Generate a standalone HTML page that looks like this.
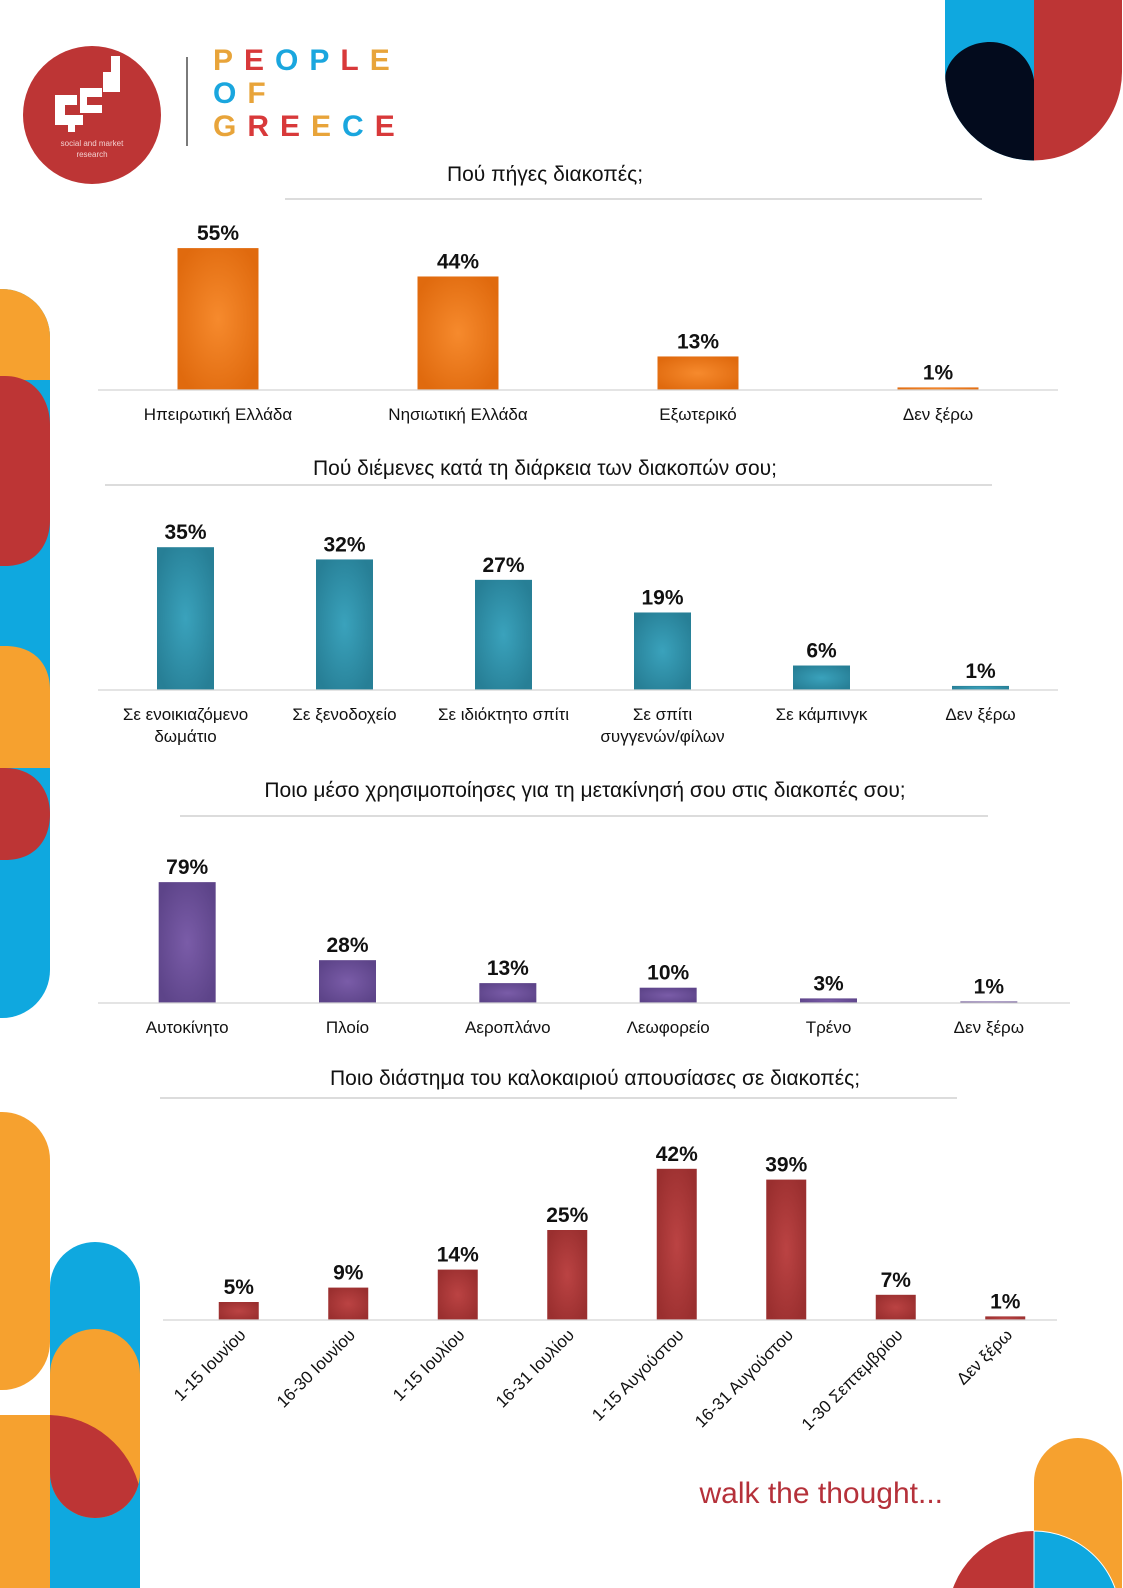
<!DOCTYPE html>
<html><head><meta charset="utf-8">
<style>
html,body{margin:0;padding:0;background:#fff;}
body{width:1123px;height:1588px;overflow:hidden;position:relative;font-family:"Liberation Sans","DejaVu Sans",sans-serif;}
svg{position:absolute;left:0;top:0;}
</style></head>
<body>
<svg id="page" width="1123" height="1588" viewBox="0 0 1123 1588" xmlns="http://www.w3.org/2000/svg">
<defs>
<radialGradient id="gOr" cx="50%" cy="50%" r="60%"><stop offset="0" stop-color="#f68a2d"/><stop offset="1" stop-color="#e06a0e"/></radialGradient>
<radialGradient id="gTe" cx="50%" cy="50%" r="60%"><stop offset="0" stop-color="#3aa2bc"/><stop offset="1" stop-color="#277f96"/></radialGradient>
<radialGradient id="gPu" cx="50%" cy="50%" r="60%"><stop offset="0" stop-color="#7a5ca8"/><stop offset="1" stop-color="#5d4489"/></radialGradient>
<radialGradient id="gRe" cx="50%" cy="50%" r="60%"><stop offset="0" stop-color="#bb4343"/><stop offset="1" stop-color="#9a2f2f"/></radialGradient>
<clipPath id="clipTR"><path d="M945 0 H1122 V72 A88.5 88.5 0 0 1 945 72 Z"/></clipPath>
<clipPath id="clipBR"><rect x="900" y="1400" width="223" height="188"/></clipPath>
<clipPath id="clipOrP"><path d="M50 1374 A45 45 0 0 1 140 1374 V1473 A45 45 0 0 1 50 1473 Z"/></clipPath>
</defs>

<g clip-path="url(#clipTR)">
<rect x="945" y="0" width="89" height="170" fill="#0fa8df"/>
<rect x="1034" y="0" width="89" height="170" fill="#bd3535"/>
<path d="M1034 170 V80 C1030 55 1010 42 990 42 C965 42 945 60 945 80 V170 Z" fill="#030b1d"/>
</g>

<g>
<path d="M0 289 H2 A48 48 0 0 1 50 337 V970 A48 48 0 0 1 2 1018 H0 Z" fill="#0fa8df"/>
<path d="M0 289 H2 A48 48 0 0 1 50 337 V380 H0 Z" fill="#f6a12f"/>
<path d="M0 376 H5 C35 376 50 400 50 425 V520 C50 545 35 566 5 566 H0 Z" fill="#bd3535"/>
<path d="M0 646 H5 C35 646 50 665 50 690 V768 H0 Z" fill="#f6a12f"/>
<path d="M0 768 H5 C35 768 50 790 50 814 C50 840 35 860 5 860 H0 Z" fill="#bd3535"/>
</g>

<g>
<path d="M0 1112 H2 A48 48 0 0 1 50 1160 V1342 A48 48 0 0 1 2 1390 H0 Z" fill="#f6a12f"/>
<path d="M50 1287 A45 45 0 0 1 140 1287 V1588 H50 Z" fill="#0fa8df"/>
<path d="M50 1374 A45 45 0 0 1 140 1374 V1473 A45 45 0 0 1 50 1473 Z" fill="#f6a12f"/>
<path d="M0 1415 H50 V1588 H0 Z" fill="#f6a12f"/>
<g clip-path="url(#clipOrP)"><path d="M50 1415 A95 95 0 0 1 140 1490 L140 1520 H50 Z" fill="#bd3535"/></g>
</g>

<g>
<path d="M1034 1588 V1482 A44 44 0 0 1 1122 1482 V1588 Z" fill="#f6a12f"/>
<g clip-path="url(#clipBR)">
<path d="M1034 1531 A86 86 0 0 0 948 1617 H1034 Z" fill="#bd3535"/>
<path d="M1034 1531 A86 86 0 0 1 1120 1617 H1034 Z" fill="#0fa8df" stroke="#fff" stroke-width="1"/>
</g>
</g>

<g>
<circle cx="92" cy="115" r="69" fill="#bd3535"/>
<path d="M55 95 h22 v10 h-12 v10 h18 v10 h-8 v7 h-7 v-7 h-13 Z M80 88 h22 v9 h-15 v8 h15 v8 h-22 Z M103 72 h8 v-16 h9 v36 h-17 Z" fill="#fff"/>
<text x="92" y="146" font-size="8" fill="#f3d0d0" text-anchor="middle">social and market</text>
<text x="92" y="157" font-size="8" fill="#f3d0d0" text-anchor="middle">research</text>
</g>
<line x1="187" y1="57" x2="187" y2="146" stroke="#222" stroke-width="1.2"/>
<g font-size="30" font-weight="bold" letter-spacing="11">
<text x="213" y="70" fill="#e8a43a">P<tspan fill="#d8393a">E</tspan><tspan fill="#1aa6de">O</tspan><tspan fill="#1aa6de">P</tspan><tspan fill="#d8393a">L</tspan><tspan fill="#e8a43a">E</tspan></text>
<text x="213" y="103" fill="#1aa6de">O<tspan fill="#e8a43a">F</tspan></text>
<text x="213" y="136" fill="#e8a43a">G<tspan fill="#d8393a">R</tspan><tspan fill="#d8393a">E</tspan><tspan fill="#e8a43a">E</tspan><tspan fill="#1aa6de">C</tspan><tspan fill="#d8393a">E</tspan></text>
</g>

<text x="943" y="1503" font-size="30" fill="#b5313a" text-anchor="end">walk the thought...</text>

<g id="charts"></g>
</svg>

<script>
// Chart 1
const c1Categories = ["Ηπειρωτική Ελλάδα","Νησιωτική Ελλάδα","Εξωτερικό","Δεν ξέρω"];
const c1Values = [55,44,13,1];
// Chart 2
const c2Categories = [["Σε ενοικιαζόμενο","δωμάτιο"],["Σε ξενοδοχείο"],["Σε ιδιόκτητο σπίτι"],["Σε σπίτι","συγγενών/φίλων"],["Σε κάμπινγκ"],["Δεν ξέρω"]];
const c2Values = [35,32,27,19,6,1];
// Chart 3
const c3Categories = ["Αυτοκίνητο","Πλοίο","Αεροπλάνο","Λεωφορείο","Τρένο","Δεν ξέρω"];
const c3Values = [79,28,13,10,3,1];
// Chart 4
const c4Categories = ["1-15 Ιουνίου","16-30 Ιουνίου","1-15 Ιουλίου","16-31 Ιουλίου","1-15 Αυγούστου","16-31 Αυγούστου","1-30 Σεπτεμβρίου","Δεν ξέρω"];
const c4Values = [5,9,14,25,42,39,7,1];

const NS="http://www.w3.org/2000/svg";
const root=document.getElementById('charts');
function mk(tag,attrs,parent){const e=document.createElementNS(NS,tag);for(const k in attrs)e.setAttribute(k,attrs[k]);(parent||root).appendChild(e);return e;}

function chart(cfg){
  const g=mk('g',{});
  
  
  const t=mk('text',{x:cfg.titleX,y:cfg.titleY,'font-size':21,'text-anchor':'middle',fill:'#111'},g);
  t.textContent=cfg.title;
  
  
  const tl=mk('line',{x1:cfg.tl[0],x2:cfg.tl[1],y1:cfg.tl[2],y2:cfg.tl[2],stroke:'#c8c8c8','stroke-width':1.2},g);
  
  
  const n=cfg.values.length;
  const step=(cfg.x1-cfg.x0)/n;
  const xs=i=>cfg.x0+step*(i+0.5);
  const ys=v=>cfg.base-v*cfg.scale;
  cfg.values.forEach((v,i)=>{
    const cx=xs(i);
    const r=mk('rect',{x:cx-cfg.bw/2,y:ys(v),width:cfg.bw,height:cfg.base-ys(v),fill:cfg.fill},g);
    
    
    const vl=mk('text',{x:cx,y:ys(v)-8,'font-size':21,'font-weight':'bold','text-anchor':'middle',fill:'#111'},g);
    vl.textContent=v+'%';
    
    
    const cat=cfg.cats[i];
    if(cfg.rotate){
      const lx=cx+8, ly=cfg.base+16;
      const ct=mk('text',{x:lx,y:ly,'font-size':17,'text-anchor':'end',fill:'#111',transform:`rotate(-45 ${lx} ${ly})`},g);
      ct.textContent=cat;
      
      
    }else{
      const lines=Array.isArray(cat)?cat:[cat];
      lines.forEach((ln,j)=>{
        const ct=mk('text',{x:cx,y:cfg.base+30+j*22,'font-size':17,'text-anchor':'middle',fill:'#111'},g);
        ct.textContent=ln;
        
        
      });
    }
  });
  const ax=mk('line',{x1:cfg.ax0,x2:cfg.ax1,y1:cfg.base,y2:cfg.base,stroke:'#d4d4d4','stroke-width':1.2},g);
  
  
}

chart({name:'chart-destination',title:'Πού πήγες διακοπές;',titleX:545,titleY:181,tl:[285,982,199],
  values:c1Values,cats:c1Categories,x0:98,x1:1058,ax0:98,ax1:1058,base:390,scale:2.58,bw:81,fill:'url(#gOr)'});
chart({name:'chart-accommodation',title:'Πού διέμενες κατά τη διάρκεια των διακοπών σου;',titleX:545,titleY:475,tl:[105,992,485],
  values:c2Values,cats:c2Categories,x0:106,x1:1060,ax0:98,ax1:1058,base:690,scale:4.08,bw:57,fill:'url(#gTe)'});
chart({name:'chart-transport',title:'Ποιο μέσο χρησιμοποίησες για τη μετακίνησή σου στις διακοπές σου;',titleX:585,titleY:797,tl:[180,988,816],
  values:c3Values,cats:c3Categories,x0:107,x1:1069,ax0:98,ax1:1070,base:1003,scale:1.53,bw:57,fill:'url(#gPu)'});
chart({name:'chart-period',title:'Ποιο διάστημα του καλοκαιριού απουσίασες σε διακοπές;',titleX:595,titleY:1085,tl:[160,957,1098],
  values:c4Values,cats:c4Categories,x0:184,x1:1060,ax0:163,ax1:1057,base:1320,scale:3.6,bw:40,fill:'url(#gRe)',rotate:true});
</script>
</body></html>
